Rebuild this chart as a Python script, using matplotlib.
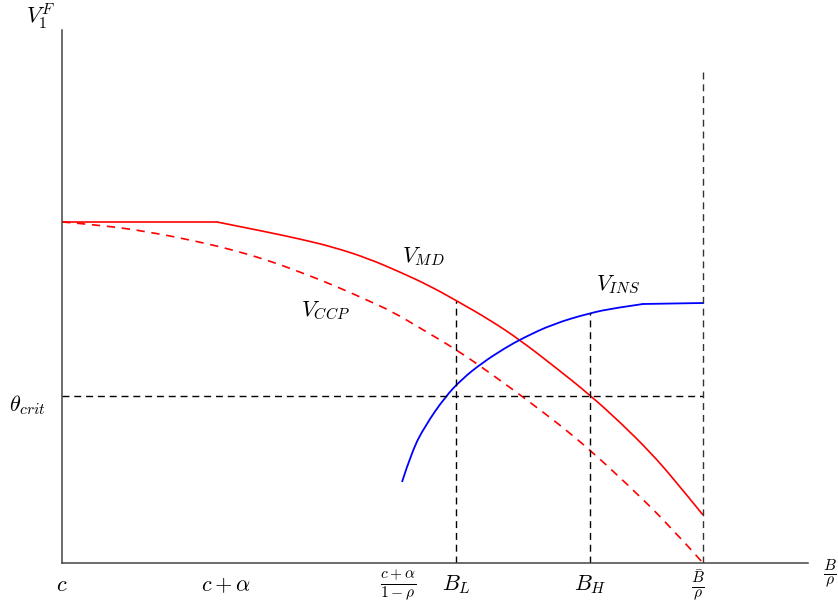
import matplotlib
matplotlib.use("Agg")
import matplotlib.pyplot as plt
from matplotlib.path import Path
from matplotlib.patches import PathPatch

plt.rcParams['mathtext.fontset'] = 'cm'
plt.rcParams['font.family'] = ['DejaVu Serif']

# curves (origin at the axis corner)
md_x = [0, 155, 205, 238, 271, 305, 338, 368, 395, 428, 458, 493, 528, 561, 588, 611, 641]
md_y = [341, 341, 331, 324, 316, 305, 291, 277, 262, 243, 223, 196, 168, 138, 111, 85, 48]

ccp_x = [0, 38, 88, 138, 171, 205, 238, 271, 305, 331, 358, 395, 428, 461, 498, 528, 565, 608, 641]
ccp_y = [341, 338, 331, 321, 313, 303, 291, 278, 263, 251, 235, 213, 190, 166, 138, 113, 79, 37, 0]

ins_x = [340, 350, 363, 383, 400, 420, 443, 461, 491, 528, 553, 581, 641]
ins_y = [81, 112, 137, 166, 184, 200, 215, 225, 239, 250, 255, 259, 260]

theta_crit = 167
b_low, b_low_top = 394, 262
b_high, b_high_top = 528, 250
b_bar, b_bar_top = 641, 493

tick_pos = [0, 164, 336, 394, 528, 636]
tick_txt = [r'$c$', r'$c+\alpha$', r'$\frac{c+\alpha}{1-\rho}$', r'$B_L$', r'$B_H$', r'$\frac{\bar{B}}{\rho}$']


def smooth(ax, xs, ys, **kw):
    # quadratic bezier through midpoints, read points act as controls
    pts = list(zip(xs, ys))
    verts = [pts[0]]
    codes = [Path.MOVETO]
    n = len(pts)
    if n == 2:
        verts.append(pts[1])
        codes.append(Path.LINETO)
    for i in range(1, n - 1):
        if i == n - 2:
            end = pts[n - 1]
        else:
            end = ((pts[i][0] + pts[i + 1][0]) / 2, (pts[i][1] + pts[i + 1][1]) / 2)
        verts += [pts[i], end]
        codes += [Path.CURVE3, Path.CURVE3]
    ax.add_patch(PathPatch(Path(verts, codes), fill=False, **kw))


fig = plt.figure(figsize=(8.38, 6.01), dpi=100)
ax = fig.add_axes([62 / 838, 38 / 601, 746 / 838, 533 / 601])
ax.set_xlim(0, 746)
ax.set_ylim(0, 533)
for s in ['top', 'right']:
    ax.spines[s].set_visible(False)
for s in ['left', 'bottom']:
    ax.spines[s].set_color('#444444')
    ax.spines[s].set_linewidth(1.1)
ax.set_xticks([])
ax.set_yticks([])

ax.plot(md_x[:2], md_y[:2], color='red', lw=1.2)
smooth(ax, [md_x[1]] + md_x[1:], [md_y[1]] + md_y[1:], edgecolor='red', lw=1.2)
smooth(ax, ccp_x, ccp_y, edgecolor='red', lw=1.2, ls=(0, (5, 4)))
smooth(ax, ins_x[:-1], ins_y[:-1], edgecolor='blue', lw=1.3)
ax.plot(ins_x[-2:], ins_y[-2:], color='blue', lw=1.3)

dash = (0, (5, 3.5))
ax.plot([0, b_bar], [theta_crit, theta_crit], color='black', lw=1, ls=dash)
ax.plot([b_low, b_low], [0, b_low_top], color='black', lw=1, ls=dash)
ax.plot([b_high, b_high], [0, b_high_top], color='black', lw=1, ls=dash)
ax.plot([b_bar, b_bar], [0, b_bar_top], color='#333333', lw=1, ls=dash)

fs = 16
ax.text(361, 306, r'$V_{MD}$', fontsize=fs, ha='center', va='center')
ax.text(556, 278, r'$V_{INS}$', fontsize=fs, ha='center', va='center')
ax.text(263, 252, r'$V_{CCP}$', fontsize=fs, ha='center', va='center')
ax.text(-35, 158, r'$\theta_{crit}$', fontsize=fs, ha='center', va='center', clip_on=False)
ax.text(-21, 547, r'$V_1^F$', fontsize=fs, ha='center', va='center', clip_on=False)
ax.text(768, -11, r'$\frac{B}{\rho}$', fontsize=fs, ha='center', va='center', clip_on=False)

for p, t in zip(tick_pos, tick_txt):
    ax.text(p, -22, t, fontsize=fs, ha='center', va='center', clip_on=False)

fig.savefig('out.png', dpi=100)
